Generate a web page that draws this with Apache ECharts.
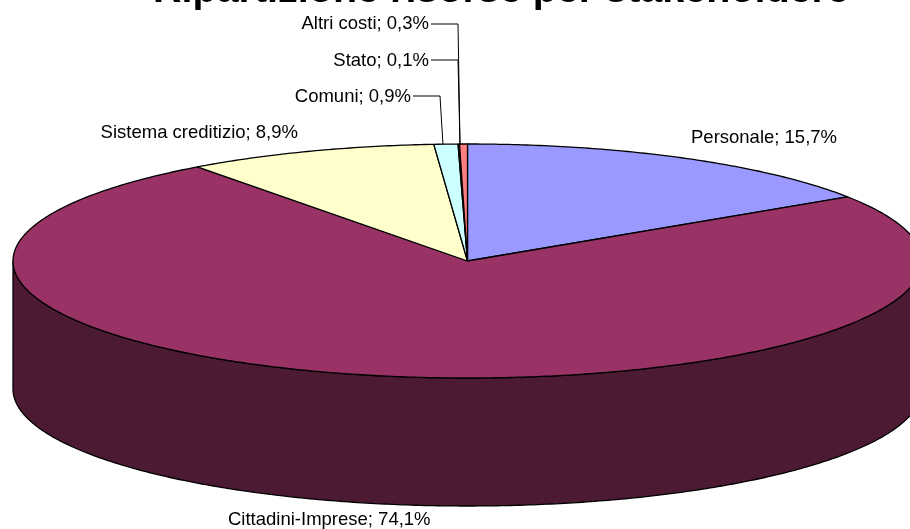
<!DOCTYPE html>
<html><head><meta charset="utf-8">
<style>html,body{margin:0;padding:0;background:#fff}#c{width:910px;height:529px}</style>
<script src="https://cdn.jsdelivr.net/npm/echarts@6/dist/echarts.min.js"></script>
</head><body><div id="c"></div>
<script>
var categories = ['Personale','Cittadini-Imprese','Sistema creditizio','Comuni','Stato','Altri costi'];
var values = [15.74,74.05,8.94,0.85,0.05,0.28];
var valueLabels = ['15,7%','74,1%','8,9%','0,9%','0,1%','0,3%'];
var titleText = 'Ripartizione risorse per stakeholdere';

var topColors = ['#9999ff','#993366','#ffffcc','#ccffff','#660066','#ff8080'];
var sideColors = ['#4d4d80','#4d1a33','#808066','#668080','#330033','#804040'];
var geo = {cx:467.5, cy:261, rx:454.5, ry:117, depth:128};
// label placement: x, y, align, optional leader polyline
var labelLayout = [
  {x:691,y:137.5,align:'left'},
  {x:228,y:520,align:'left'},
  {x:298,y:132.5,align:'right'},
  {x:411,y:97,align:'right',leader:[[413,96],[440,96],[443,145]]},
  {x:429,y:61,align:'right',leader:[[431,60],[458,60],[460,145]]},
  {x:429,y:24,align:'right',leader:[[431,24],[458,24],[460,145]]}
];
function pt(t,dy){return [geo.cx+geo.rx*Math.sin(t), geo.cy-geo.ry*Math.cos(t)+(dy||0)];}
function arc(a,b,dy){var n=Math.max(2,Math.ceil(Math.abs(b-a)/0.01)),o=[];for(var i=0;i<=n;i++)o.push(pt(a+(b-a)*i/n,dy));return o;}
var total=values.reduce(function(s,v){return s+v;},0);
var ranges=[],acc=0;
values.forEach(function(v){var a=acc/total*2*Math.PI;acc+=v;ranges.push([a,acc/total*2*Math.PI]);});
var lineStyle={stroke:'#000',lineWidth:1.3,lineJoin:'round'};
function poly(points,fill){return {type:'polygon',shape:{points:points},style:Object.assign({fill:fill},lineStyle)};}

function renderItem(params,api){
  var i=params.dataIndex, r=ranges[i], kids=[];
  var a=Math.max(r[0],Math.PI/2), b=Math.min(r[1],Math.PI*1.5);
  if(b>a){kids.push(poly(arc(a,b,0).concat(arc(b,a,geo.depth)),sideColors[i]));}
  return {type:'group',children:kids};
}
function renderTop(params,api){
  var i=params.dataIndex, r=ranges[i];
  return poly([[geo.cx,geo.cy]].concat(arc(r[0],r[1],0)),topColors[i]);
}
function renderLabel(params,api){
  var i=params.dataIndex, l=labelLayout[i], kids=[];
  if(l.leader)kids.push({type:'polyline',shape:{points:l.leader},style:{stroke:'#000',lineWidth:1,fill:null}});
  kids.push({type:'text',x:l.x,y:l.y,style:{text:categories[i]+'; '+valueLabels[i],fill:'#000',
    font:'18.5px "Liberation Sans", Arial, sans-serif',align:l.align,verticalAlign:'middle'}});
  return {type:'group',children:kids};
}
var data=values.map(function(v,i){return {name:categories[i],value:v};});
var chart=echarts.init(document.getElementById('c'),null,{renderer:'canvas'});
chart.setOption({
  animation:false,
  backgroundColor:'#fff',
  title:{text:titleText,left:153,top:-29,itemGap:0,padding:0,
    textStyle:{fontFamily:'"Liberation Sans", Arial, sans-serif',fontWeight:'bold',fontSize:39.5,color:'#000'}},
  series:[
    {type:'custom',coordinateSystem:'none',data:data,renderItem:renderItem,silent:true,z:1},
    {type:'custom',coordinateSystem:'none',data:data,renderItem:renderTop,silent:true,z:2},
    {type:'custom',coordinateSystem:'none',data:data,renderItem:renderLabel,silent:true,z:3}
  ]
});
</script></body></html>
